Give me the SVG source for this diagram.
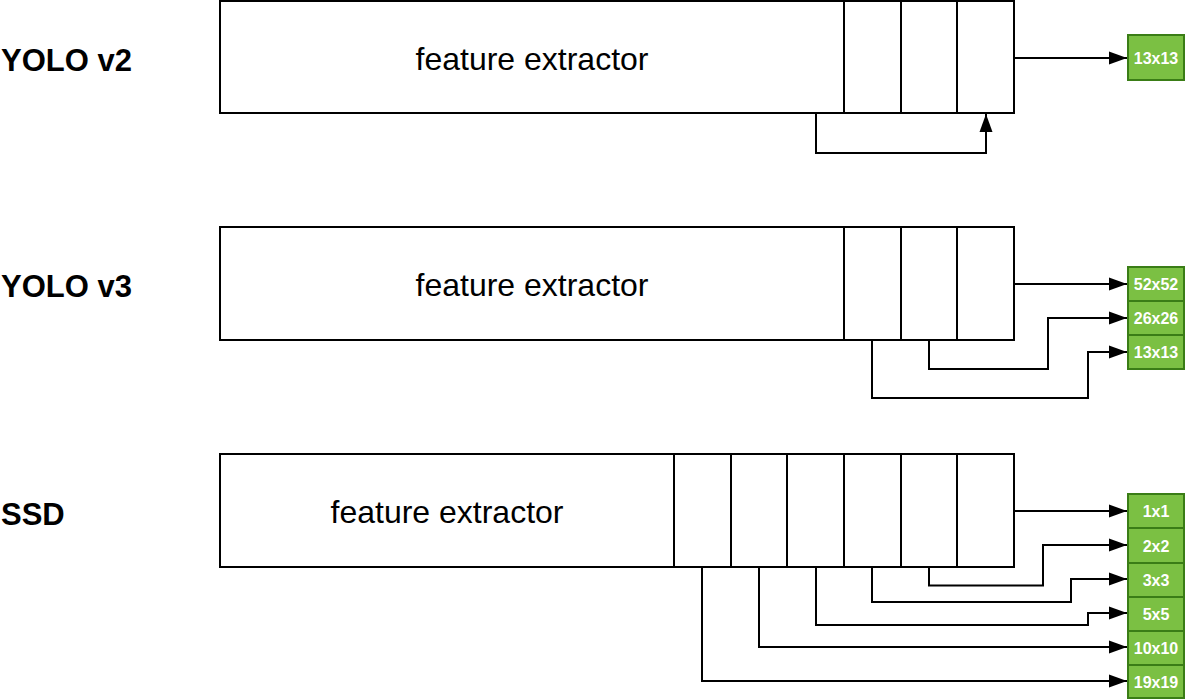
<svg xmlns="http://www.w3.org/2000/svg" width="1185" height="699" viewBox="0 0 1185 699">
<style>
.box{fill:#fff;stroke:#000;stroke-width:2}
.div{stroke:#000;stroke-width:2;fill:none}
.con{stroke:#000;stroke-width:2;fill:none;marker-end:url(#arr)}
.fe{font-family:"Liberation Sans",Arial,sans-serif;font-size:32px;fill:#000;text-anchor:middle}
.ttl{font-family:"Liberation Sans",Arial,sans-serif;font-size:31px;font-weight:bold;fill:#000}
.g{fill:#7bc043;stroke:#3a7d16;stroke-width:2}
.gl{font-family:"Liberation Sans",Arial,sans-serif;font-size:16px;font-weight:bold;fill:#fff;text-anchor:middle}
</style>
<defs>
<marker id="arr" markerUnits="userSpaceOnUse" markerWidth="20" markerHeight="16" refX="18" refY="8" orient="auto">
<path d="M0,1.5 L18,8 L0,14.5 z" fill="#000"/>
</marker>
</defs>
<rect width="1185" height="699" fill="#fff"/>
<g id="title-yolov2"><text class="ttl" x="1" y="71">YOLO v2</text></g>
<g id="title-yolov3"><text class="ttl" x="1" y="297">YOLO v3</text></g>
<g id="title-ssd"><text class="ttl" x="1" y="525">SSD</text></g>

<g id="yolov2">
<rect class="box" x="220" y="1" width="794" height="112"/>
<line class="div" x1="844" y1="1" x2="844" y2="113"/>
<line class="div" x1="901" y1="1" x2="901" y2="113"/>
<line class="div" x1="957" y1="1" x2="957" y2="113"/>
<text class="fe" x="532" y="70">feature extractor</text>
</g>
<g id="yolov2-out">
<rect class="g" x="1128" y="35" width="56" height="45"/>
<text class="gl" x="1156" y="63.5">13x13</text>
</g>

<g id="yolov3">
<rect class="box" x="220" y="227" width="794" height="113"/>
<line class="div" x1="844" y1="227" x2="844" y2="340"/>
<line class="div" x1="901" y1="227" x2="901" y2="340"/>
<line class="div" x1="957" y1="227" x2="957" y2="340"/>
<text class="fe" x="532" y="296">feature extractor</text>
</g>
<g id="yolov3-out">
<rect class="g" x="1128" y="267" width="56" height="34"/>
<text class="gl" x="1156" y="290">52x52</text>
<rect class="g" x="1128" y="301" width="56" height="34"/>
<text class="gl" x="1156" y="324">26x26</text>
<rect class="g" x="1128" y="335" width="56" height="34"/>
<text class="gl" x="1156" y="358">13x13</text>
</g>

<g id="ssd">
<rect class="box" x="220" y="454" width="794" height="113"/>
<line class="div" x1="674" y1="454" x2="674" y2="567"/>
<line class="div" x1="731" y1="454" x2="731" y2="567"/>
<line class="div" x1="787" y1="454" x2="787" y2="567"/>
<line class="div" x1="844" y1="454" x2="844" y2="567"/>
<line class="div" x1="901" y1="454" x2="901" y2="567"/>
<line class="div" x1="957" y1="454" x2="957" y2="567"/>
<text class="fe" x="447" y="523">feature extractor</text>
</g>
<g id="ssd-out">
<rect class="g" x="1128" y="494" width="56" height="34"/>
<text class="gl" x="1156" y="517">1x1</text>
<rect class="g" x="1128" y="528" width="56" height="35"/>
<text class="gl" x="1156" y="551.5">2x2</text>
<rect class="g" x="1128" y="563" width="56" height="34"/>
<text class="gl" x="1156" y="586">3x3</text>
<rect class="g" x="1128" y="597" width="56" height="34"/>
<text class="gl" x="1156" y="620">5x5</text>
<rect class="g" x="1128" y="631" width="56" height="34"/>
<text class="gl" x="1156" y="654">10x10</text>
<rect class="g" x="1128" y="665" width="56" height="33"/>
<text class="gl" x="1156" y="687.5">19x19</text>
</g>

<g id="connectors">
<path class="con" d="M1014,58 H1127"/>
<path class="con" d="M816,113 V153 H986 V114"/>
<path class="con" d="M1014,284 H1127"/>
<path class="con" d="M929,340 V369 H1048 V318 H1127"/>
<path class="con" d="M872,340 V398 H1088 V352 H1127"/>
<path class="con" d="M1014,511 H1127"/>
<path class="con" d="M929,567 V585.5 H1043 V545 H1127"/>
<path class="con" d="M872,567 V602 H1071 V579 H1127"/>
<path class="con" d="M816,567 V625 H1088 V613 H1127"/>
<path class="con" d="M759,567 V647 H1127"/>
<path class="con" d="M702,567 V681 H1127"/>
</g>
</svg>
